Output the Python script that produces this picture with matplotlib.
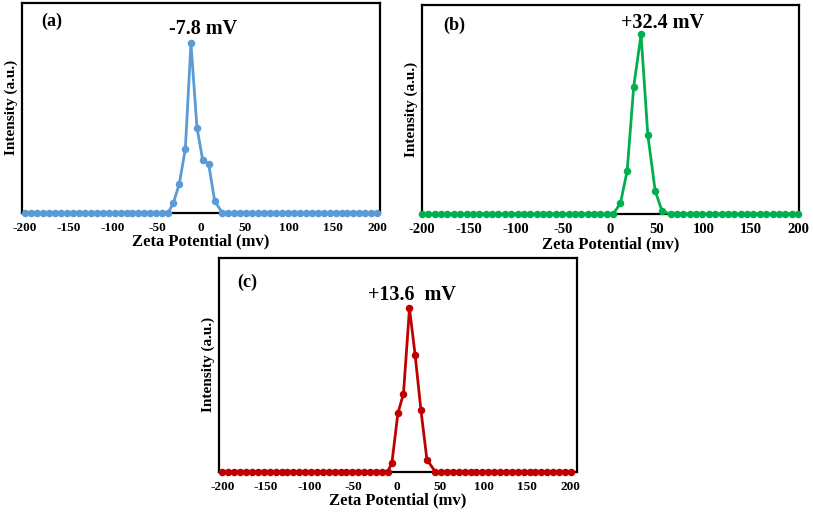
import numpy as np
import matplotlib
matplotlib.use("Agg")
import matplotlib.pyplot as plt

plt.rcParams['font.family'] = ['Liberation Serif', 'DejaVu Serif']
plt.rcParams['axes.unicode_minus'] = False

# zeta potential bins (baseline grid) and the non-zero part of each distribution
grid = np.linspace(-200, 200, 60)
step = grid[1] - grid[0]

a_x = [-31.6, -24.8, -18.0, -11.6, -4.8, 1.7, 8.5, 15.3]
a_y = [5.6, 17.0, 37.6, 100, 50.2, 31.1, 28.6, 6.9]

b_x = [11.1, 18.2, 25.2, 33.0, 40.2, 48.0, 55.3]
b_y = [6.0, 24.0, 71.0, 100, 44.0, 13.0, 1.6]

c_x = [-5.5, 1.4, 7.8, 14.7, 21.2, 27.8, 34.7]
c_y = [5.3, 35.7, 47.7, 100, 71.2, 37.7, 7.3]

ticks = [-200, -150, -100, -50, 0, 50, 100, 150, 200]
W, H = 813, 514


def px(x0, y0, x1, y1):
  # pixel box -> figure fraction rect
  return [x0 / W, 1 - y1 / H, (x1 - x0) / W, (y1 - y0) / H]


def panel(fig, rect, xs, ys, color, xlim, ytop, tick_fs):
  ax = fig.add_axes(rect)
  xs = np.array(xs)
  base = grid[(grid < xs[0] - step / 2) | (grid > xs[-1] + step / 2)]
  x = np.concatenate([base, xs])
  y = np.concatenate([np.zeros(len(base)), ys])
  o = np.argsort(x)
  ax.plot(x[o], y[o], '-o', color=color, lw=2.0, ms=4.4, clip_on=False, zorder=3)
  ax.set_xlim(*xlim)
  ax.set_ylim(0, ytop)
  ax.set_yticks([])
  ax.set_xticks(ticks)
  ax.set_xticklabels([str(t) for t in ticks], fontsize=tick_fs, fontweight='bold')
  ax.tick_params(axis='x', length=0, pad=6.5)
  for s in ax.spines.values():
    s.set_linewidth(1.6)
    s.set_color('black')
  ax.set_xlabel('Zeta Potential (mv)', fontsize=12, fontweight='bold', labelpad=0)
  ax.set_ylabel('Intensity (a.u.)', fontsize=11, fontweight='bold', labelpad=3)
  return ax


fig = plt.figure(figsize=(8.13, 5.14), dpi=100)

panel(fig, px(22, 3, 380, 212.5), a_x, a_y, '#5B9BD5', (-203.4, 203), 123.8, 9.5)
panel(fig, px(422, 4.7, 799, 214), b_x, b_y, '#00B050', (-199, 201), 116.6, 10.5)
panel(fig, px(219, 257.7, 577, 471.5), c_x, c_y, '#C00000', (-204, 207), 131, 9.5)


def label(x, y, s, fs=14.5):
  fig.text(x / W, 1 - y / H, s, fontsize=fs, fontweight='bold', ha='center', va='center')


label(52, 21, '(a)', 13)
label(454, 25, '(b)', 13)
label(247, 282, '(c)', 13)
label(203, 29, '-7.8 mV')
label(662, 22.5, '+32.4 mV')
label(412, 295, '+13.6  mV')

fig.savefig('out.png', dpi=100)
